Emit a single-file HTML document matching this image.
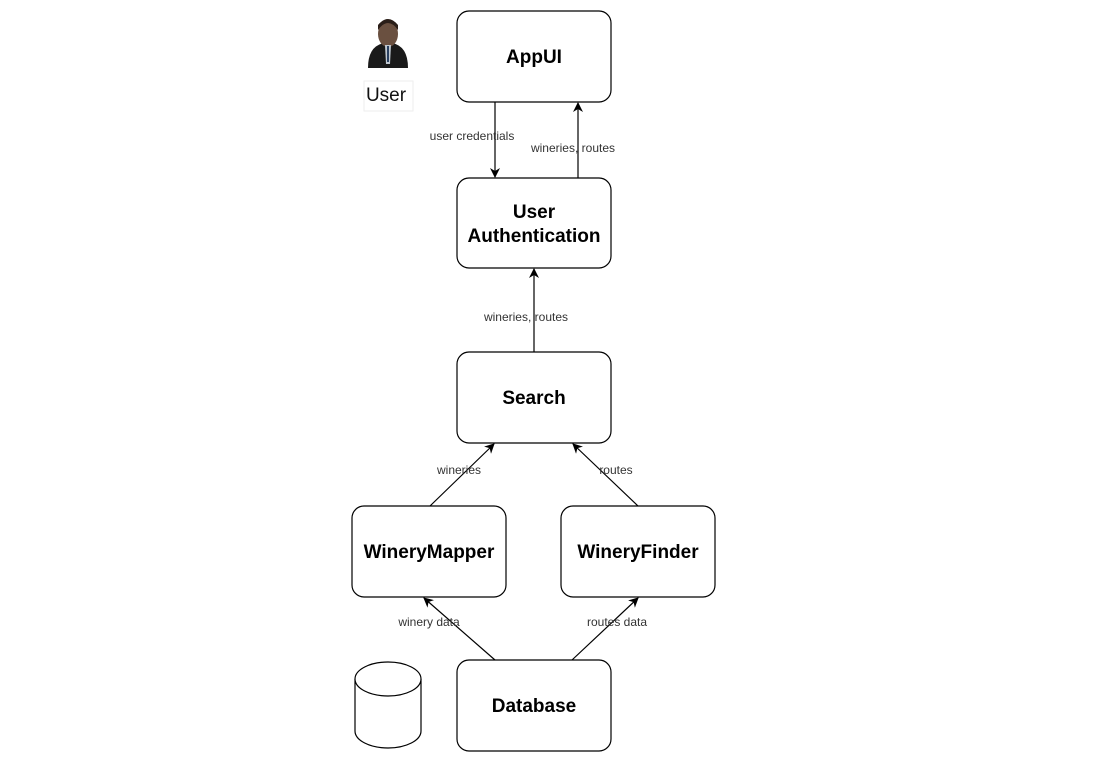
<!DOCTYPE html>
<html><head><meta charset="utf-8"><style>body{margin:0;background:#fff}svg{display:block}</style></head><body>
<svg width="1100" height="771" viewBox="0 0 1100 771" xmlns="http://www.w3.org/2000/svg" font-family="Liberation Sans, Arial, sans-serif">
<defs><marker id="a" markerWidth="10" markerHeight="10" refX="9" refY="5" orient="auto" markerUnits="userSpaceOnUse"><path d="M0,0 L10,5 L0,10 L3,5 z" fill="#000"/></marker></defs>
<g fill="#fff" stroke="#000" stroke-width="1.2">
<rect x="457" y="11" width="154" height="91" rx="12"/>
<rect x="457" y="178" width="154" height="90" rx="12"/>
<rect x="457" y="352" width="154" height="91" rx="12"/>
<rect x="352" y="506" width="154" height="91" rx="12"/>
<rect x="561" y="506" width="154" height="91" rx="12"/>
<rect x="457" y="660" width="154" height="91" rx="12"/>
<path d="M355,679 L355,731 A33,17 0 0 0 421,731 L421,679"/>
<ellipse cx="388" cy="679" rx="33" ry="17"/>
</g>
<g stroke="#000" stroke-width="1.2" fill="none" marker-end="url(#a)">
<line x1="495" y1="102" x2="495" y2="177"/>
<line x1="578" y1="178" x2="578" y2="103"/>
<line x1="534" y1="352" x2="534" y2="269"/>
<line x1="430" y1="506" x2="494" y2="444"/>
<line x1="638" y1="506" x2="573" y2="444"/>
<line x1="495" y1="660" x2="424" y2="598"/>
<line x1="572" y1="660" x2="638" y2="598"/>
</g>
<g font-size="12" fill="#333" text-anchor="middle">
<text x="472" y="140">user credentials</text>
<text x="573" y="152">wineries, routes</text>
<text x="526" y="321">wineries, routes</text>
<text x="459" y="474">wineries</text>
<text x="616" y="474">routes</text>
<text x="429" y="626">winery data</text>
<text x="617" y="626">routes data</text>
</g>
<g font-size="19" font-weight="bold" text-anchor="middle" fill="#000">
<text x="534" y="63">AppUI</text>
<text x="534" y="218">User</text>
<text x="534" y="242">Authentication</text>
<text x="534" y="404">Search</text>
<text x="429" y="558">WineryMapper</text>
<text x="638" y="558">WineryFinder</text>
<text x="534" y="712">Database</text>
</g>
<g>
<path d="M368,68 Q368,46 384,43 L392,43 Q408,46 408,68 z" fill="#1a1a1a"/>
<ellipse cx="388" cy="34" rx="10" ry="13" fill="#6a5040"/>
<path d="M378,30 Q388,16 398,30 L398,25 Q388,13 378,25 z" fill="#2a1e18"/>
<path d="M385,45 L391,45 L390,64 L386,64 z" fill="#c0c8d0"/>
<path d="M387,46 L389,46 L389,62 L387,62 z" fill="#2a4060"/>
<rect x="364" y="81" width="49" height="30" fill="#fff" stroke="#eee"/>
<text x="386" y="101" font-size="19" text-anchor="middle" fill="#111">User</text>
</g>
</svg>
</body></html>
